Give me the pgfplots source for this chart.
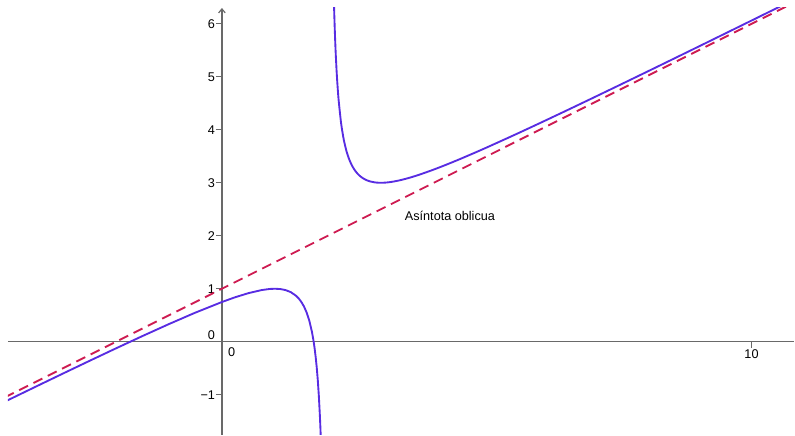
\documentclass[border=0pt]{standalone}
\usepackage{fontspec}
\setmainfont{Liberation Sans}
\setsansfont{Liberation Sans}
\usepackage{pgfplots}
\pgfplotsset{compat=1.18}
\usetikzlibrary{arrows.meta}

\definecolor{curveblue}{RGB}{88,44,226}
\definecolor{asymred}{RGB}{206,28,82}
\definecolor{axisgray}{RGB}{105,105,105}

% f(x) = x/2 + 1 + 1/(2(x-2)), left branch (x < 2)
\pgfplotstableread{
x y
-4.10 -1.1320
-4.00 -1.0833
-3.50 -0.8409
-3.00 -0.6000
-2.50 -0.3611
-2.00 -0.1250
-1.50 0.1071
-1.00 0.3333
-0.50 0.5500
0.00 0.7500
0.25 0.8393
0.50 0.9167
0.75 0.9750
0.90 0.9955
1.00 1.0000
1.10 0.9944
1.20 0.9750
1.30 0.9357
1.40 0.8667
1.45 0.8159
1.50 0.7500
1.55 0.6639
1.60 0.5500
1.65 0.3964
1.70 0.1833
1.73 0.0132
1.75 -0.1250
1.77 -0.2889
1.79 -0.4860
1.81 -0.7266
1.83 -1.0262
1.85 -1.4083
1.86 -1.6414
1.87 -1.9112
}\leftbranch

% right branch (x > 2)
\pgfplotstableread{
x y
2.115 6.4053
2.12 6.2267
2.13 5.9112
2.14 5.6414
2.15 5.4083
2.17 5.0262
2.20 4.6000
2.25 4.1250
2.30 3.8167
2.35 3.6036
2.40 3.4500
2.45 3.3361
2.50 3.2500
2.55 3.1841
2.60 3.1333
2.65 3.0942
2.70 3.0643
2.75 3.0417
2.80 3.0250
2.90 3.0056
3.00 3.0000
3.10 3.0045
3.20 3.0167
3.30 3.0346
3.40 3.0571
3.50 3.0833
3.60 3.1125
3.75 3.1607
4.00 3.2500
4.25 3.3472
4.50 3.4500
4.75 3.5568
5.00 3.6667
5.50 3.8929
6.00 4.1250
6.50 4.3611
7.00 4.6000
7.50 4.8409
8.00 5.0833
8.50 5.3269
9.00 5.5714
9.50 5.8167
10.00 6.0625
10.60 6.3581
}\rightbranch

% oblique asymptote y = x/2 + 1
\pgfplotstableread{
x y
-4.10 -1.05
10.70 6.35
}\asymptote

\begin{document}
\begin{tikzpicture}
\begin{axis}[
  scale only axis,
  width=590.25pt, height=320.25pt,
  xmin=-4.04, xmax=10.81,
  ymin=-1.755, ymax=6.30,
  axis lines=middle,
  axis line style={axisgray, line width=0.9pt},
  x axis line style={-},
  y axis line style={-{Straight Barb[length=3pt,width=5pt]}},
  xtick={0,10}, xticklabels={{},10},
  ytick={-1,0,1,2,3,4,5,6},
  yticklabels={−1,{},1,2,3,4,5,6},
  tick align=outside,
  major tick length=4.5pt,
  tick style={axisgray, line width=0.6pt},
  tick label style={font=\fontsize{9.5}{11}\selectfont, text=black},
  xticklabel style={anchor=north, inner sep=0pt, yshift=-1pt},
  yticklabel style={anchor=east, inner sep=0pt, xshift=-0.5pt},
  clip=true,
]
\addplot[asymred, line width=1.4pt, dash pattern=on 7.5pt off 4.5pt] table {\asymptote};
\addplot[curveblue, line width=1.4pt, line join=round] table {\leftbranch};
\addplot[curveblue, line width=1.4pt, line join=round, smooth, tension=0.4] table {\rightbranch};
\node[anchor=base west, inner sep=0pt, font=\fontsize{9.5}{11}\selectfont] at (axis cs:3.45,2.283) {Asíntota oblicua};
\node[anchor=base east, inner sep=0pt, font=\fontsize{9.5}{11}\selectfont] at ([xshift=-5pt,yshift=1.5pt]axis cs:0,0) {0};
\node[anchor=base west, inner sep=0pt, font=\fontsize{9.5}{11}\selectfont] at ([xshift=4.5pt,yshift=-11.25pt]axis cs:0,0) {0};
\end{axis}
\path ([shift={(-6pt,6pt)}]current axis.north west);
\end{tikzpicture}
\end{document}
